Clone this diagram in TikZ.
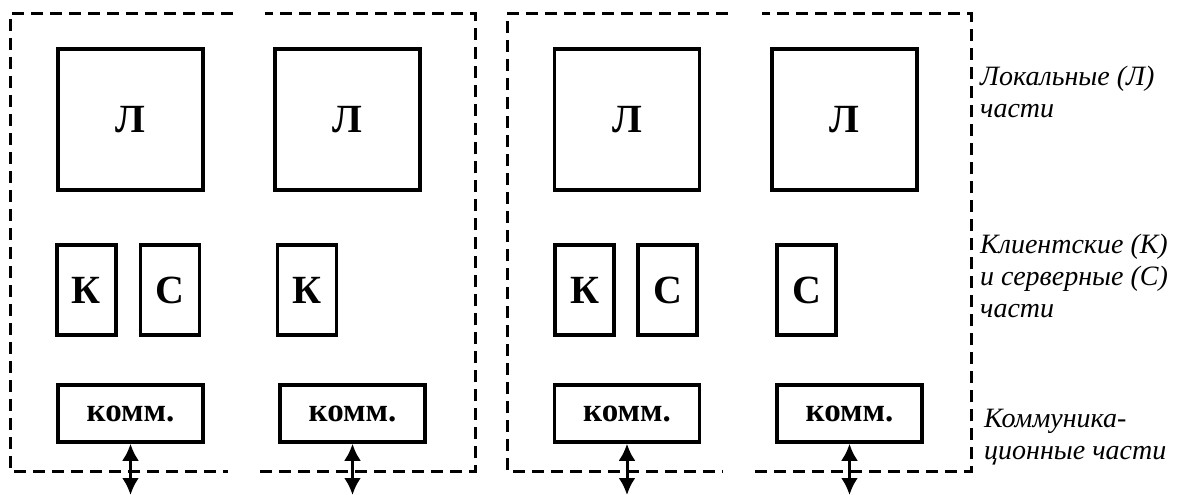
\documentclass[tikz,border=0pt]{standalone}
\usepackage{fontspec}
\setmainfont{Liberation Serif}
\usetikzlibrary{arrows.meta,positioning}
\tikzset{%
    >={Latex[length=17pt,width=17pt]},
    part/.style={draw,line width=3.5pt,inner sep=0pt,font=\bfseries\fontsize{40}{40}\selectfont},
    lpart/.style={part,minimum width=145pt,minimum height=141pt},
    cspart/.style={part,minimum width=59pt,minimum height=90pt},
    commpart/.style={part,minimum width=145pt,minimum height=57pt,font=\bfseries\fontsize{33}{33}\selectfont},
    frame/.style={line width=3pt,dash pattern=on 12pt off 7pt},
    legend/.style={anchor=west,align=left,inner sep=0pt,font=\itshape\fontsize{28}{32}\selectfont},
    link/.style={<->,line width=3pt}
}

\begin{document}
\begin{tikzpicture}[x=1pt,y=-1pt]
    \useasboundingbox (0,0) rectangle (1179,495);
    \coordinate (floor) at (0,495);
    %%%%% first unit
    \draw[frame] (233,14) -- (10,14) -- (10,471) -- (228,471);
    \draw[frame] (260,471) -- (475,471) -- (475,14) -- (265,14);
    \node [lpart] (l1-1) at (130.5,119.5) {Л};
    \node [lpart] (l1-2) at (347.5,119.5) {Л};
    \node [cspart] (k1-1) at (86.5,290) {К};
    \node [cspart] (s1-1) at (170,290) {С};
    \node [cspart] (k1-2) at (307,290) {К};
    \node [commpart] (comm1-1) at (130.5,413.5) {комм.};
    \node [commpart] (comm1-2) at (352.5,413.5) {комм.};
    %%%%% second unit
    \draw[frame] (728,14) -- (507,14) -- (507,471) -- (723,471);
    \draw[frame] (755,471) -- (971,471) -- (971,14) -- (762,14);
    \node [lpart] (l2-1) at (627,119.5) {Л};
    \node [lpart] (l2-2) at (844.5,119.5) {Л};
    \node [cspart] (k2-1) at (584.5,290) {К};
    \node [cspart] (s2-1) at (667.5,290) {С};
    \node [cspart] (s2-2) at (806.5,290) {С};
    \node [commpart] (comm2-1) at (627,413.5) {комм.};
    \node [commpart] (comm2-2) at (849.5,413.5) {комм.};
    %%%%% links out
    \draw[link] (comm1-1.south) -- (comm1-1.south |- floor);
    \draw[link] (comm1-2.south) -- (comm1-2.south |- floor);
    \draw[link] (comm2-1.south) -- (comm2-1.south |- floor);
    \draw[link] (comm2-2.south) -- (comm2-2.south |- floor);
    %%%%% legend
    \node [legend] (leg-l) at (980,92) {Локальные (Л)\\части};
    \node [legend] (leg-cs) at (980,276) {Клиентские (К)\\и серверные (С)\\части};
    \node [legend] (leg-comm) at (984,437) {Коммуника-\\ционные части};
\end{tikzpicture}
\end{document}
